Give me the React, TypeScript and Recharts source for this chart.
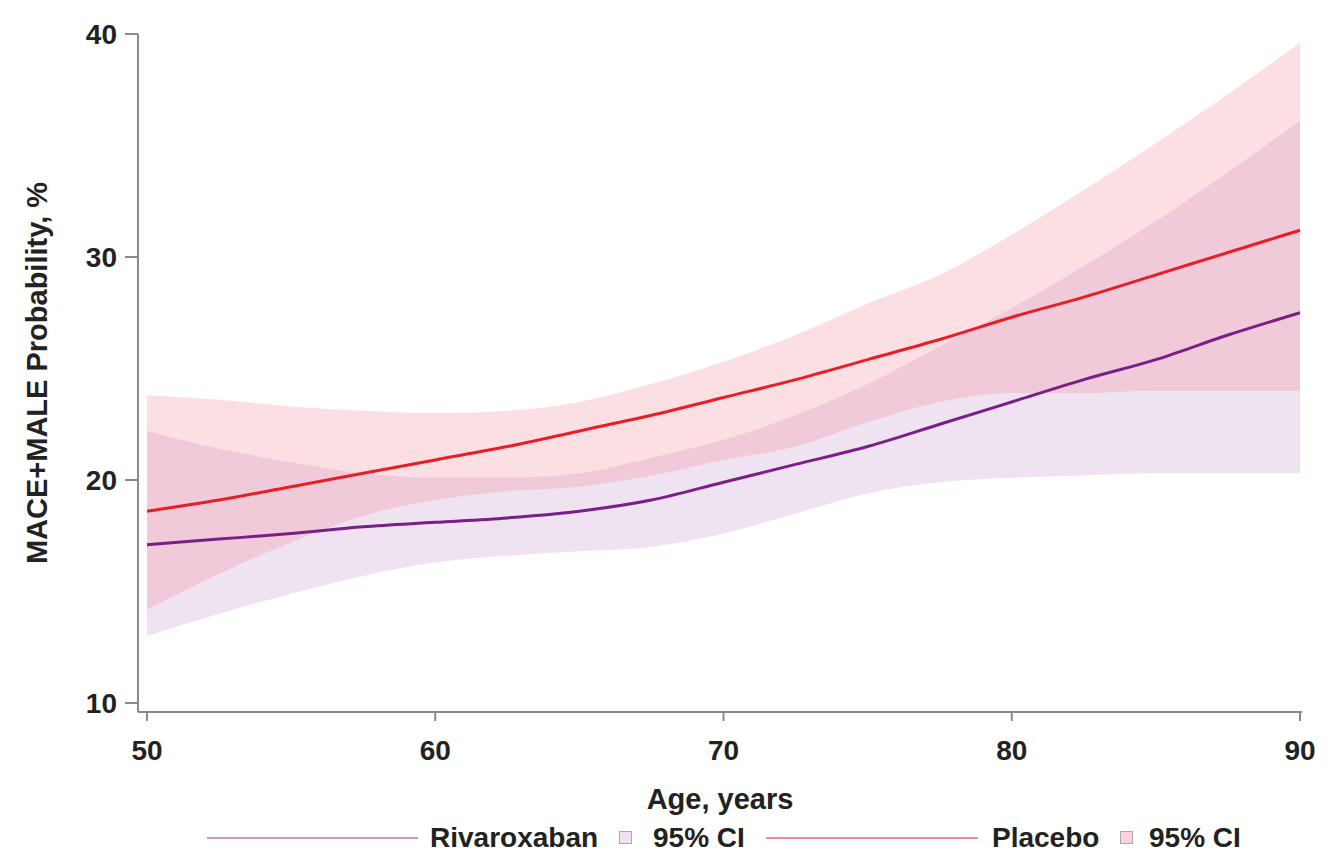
import { ComposedChart, Area, Line, XAxis, YAxis, Label } from 'recharts';

const ages = [50, 52.5, 55, 57.5, 60, 62.5, 65, 67.5, 70, 72.5, 75, 77.5, 80, 82.5, 85, 87.5, 90];

const placeboRisk = [18.6, 19.1, 19.7, 20.3, 20.9, 21.5, 22.2, 22.9, 23.7, 24.5, 25.4, 26.3, 27.3, 28.2, 29.2, 30.2, 31.2];
const placeboLow = [14.2, 15.8, 17.2, 18.4, 19.1, 19.5, 19.7, 20.2, 20.9, 21.5, 22.6, 23.5, 23.9, 23.9, 24.0, 24.0, 24.0];
const placeboHigh = [23.8, 23.6, 23.3, 23.1, 23.0, 23.1, 23.5, 24.3, 25.3, 26.5, 27.9, 29.2, 31.0, 33.0, 35.1, 37.3, 39.6];

const rivaRisk = [17.1, 17.35, 17.6, 17.9, 18.1, 18.3, 18.6, 19.1, 19.9, 20.7, 21.5, 22.5, 23.5, 24.5, 25.4, 26.5, 27.5];
const rivaLow = [13.0, 14.0, 14.9, 15.7, 16.3, 16.6, 16.8, 17.0, 17.6, 18.5, 19.4, 19.9, 20.1, 20.2, 20.3, 20.3, 20.3];
const rivaHigh = [22.2, 21.4, 20.8, 20.3, 20.1, 20.1, 20.3, 21.0, 21.8, 22.9, 24.3, 26.0, 27.7, 29.6, 31.6, 33.8, 36.1];

const xTicks = [50, 60, 70, 80, 90];
const yTicks = [10, 20, 30, 40];

const data = ages.map((age, i) => ({
  age,
  placebo: placeboRisk[i],
  riva: rivaRisk[i],
  placeboCI: [placeboLow[i], placeboHigh[i]],
  rivaCI: [rivaLow[i], rivaHigh[i]],
}));

const FONT = '"Liberation Sans", Arial, sans-serif';
const RED = '#ea1d27';
const PURPLE = '#7a1f88';
const AXIS = '#8a8a8a';

function YTitle({ viewBox }: any) {
  const cx = 47;
  const cy = viewBox.y + viewBox.height / 2;
  return (
    <text
      x={cx}
      y={cy}
      transform={`rotate(-90 ${cx} ${cy})`}
      textAnchor="middle"
      fontFamily={FONT}
      fontWeight={700}
      fontSize={29}
      fill="#222"
    >
      MACE+MALE Probability, %
    </text>
  );
}

export default function App() {
  const tickStyle = { fontSize: 28, fontWeight: 700, fill: '#222', fontFamily: FONT };
  const legendText = { position: 'absolute' as const, top: 822, fontSize: 28, fontWeight: 700, color: '#222', fontFamily: FONT };
  const box = (bg: string, left: number) => (
    <span style={{ position: 'absolute', left, top: 831, width: 11, height: 11, border: '1.5px solid #aaa', background: bg }} />
  );

  return (
    <div style={{ position: 'absolute', left: 0, top: 0, width: 1329, height: 866, background: '#fff' }}>
      <ComposedChart width={1329} height={866} data={data} margin={{ top: 34, right: 27, bottom: 94, left: 0 }}>
        <XAxis
          type="number"
          dataKey="age"
          domain={[50, 90]}
          ticks={xTicks}
          padding={{ left: 9, right: 2 }}
          height={60}
          tickSize={9}
          tickMargin={19}
          stroke={AXIS}
          strokeWidth={2}
          tick={tickStyle}
        >
          <Label
            value="Age, years"
            position="bottom"
            offset={16}
            style={{ fontSize: 29, fontWeight: 700, fill: '#222', fontFamily: FONT }}
          />
        </XAxis>
        <YAxis
          type="number"
          domain={[10, 40]}
          ticks={yTicks}
          padding={{ top: 0, bottom: 9 }}
          width={138}
          tickSize={13}
          tickMargin={8}
          stroke={AXIS}
          strokeWidth={2}
          tick={tickStyle}
        >
          <Label content={YTitle} />
        </YAxis>
        <Area
          dataKey="rivaCI"
          type="monotone"
          fill="#efe3f1"
          fillOpacity={1}
          stroke="none"
          isAnimationActive={false}
        />
        <Area
          dataKey="placeboCI"
          type="monotone"
          fill="#f5808f"
          fillOpacity={0.25}
          stroke="none"
          isAnimationActive={false}
        />
        <Line dataKey="placebo" type="monotone" stroke={RED} strokeWidth={3} dot={false} isAnimationActive={false} />
        <Line dataKey="riva" type="monotone" stroke={PURPLE} strokeWidth={3} dot={false} isAnimationActive={false} />
      </ComposedChart>

      <span style={{ position: 'absolute', left: 207, top: 837, width: 211, height: 2, background: '#c99bc6' }} />
      <span style={{ ...legendText, left: 430 }}>Rivaroxaban</span>
      {box('#efe3f1', 619)}
      <span style={{ ...legendText, left: 653 }}>95% CI</span>
      <span style={{ position: 'absolute', left: 766, top: 837, width: 212, height: 2, background: '#f08a96' }} />
      <span style={{ ...legendText, left: 992 }}>Placebo</span>
      {box('#f9d3dc', 1120)}
      <span style={{ ...legendText, left: 1149 }}>95% CI</span>
    </div>
  );
}
